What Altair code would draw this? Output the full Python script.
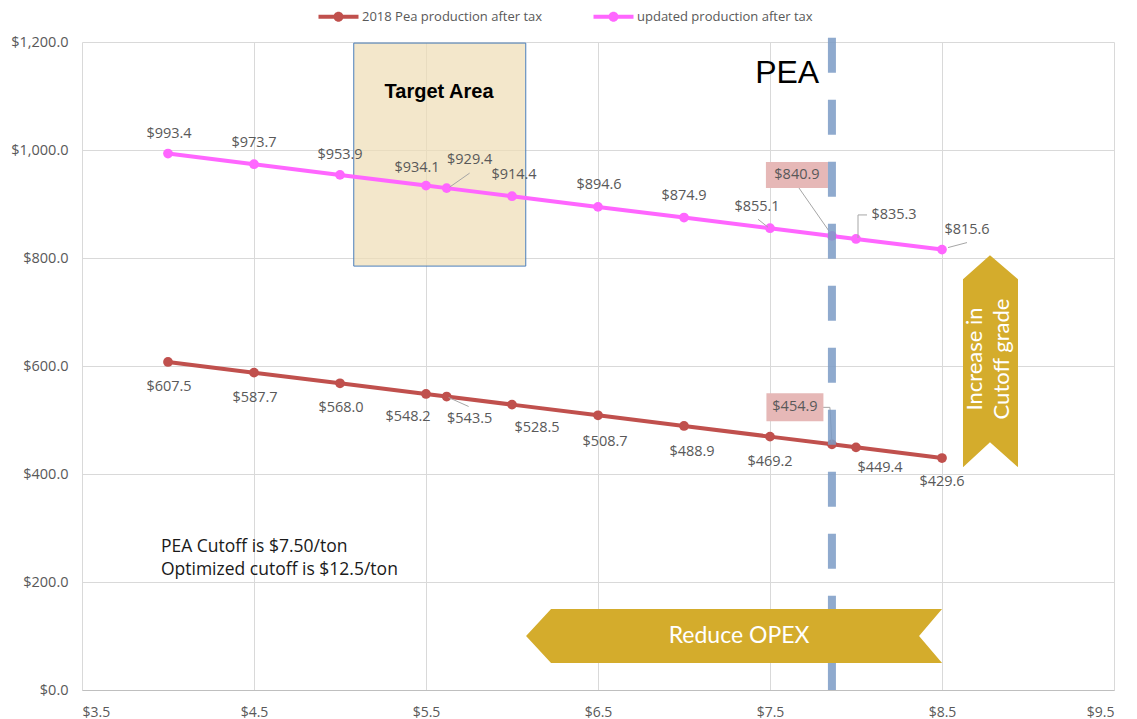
import altair as alt
import pandas as pd

# ---------------- data ----------------
x_vals = [4.0, 4.5, 5.0, 5.5, 5.62, 6.0, 6.5, 7.0, 7.5, 7.86, 8.0, 8.5]
updated = [993.4, 973.7, 953.9, 934.1, 929.4, 914.4, 894.6, 874.9, 855.1, 840.9, 835.3, 815.6]
pea2018 = [607.5, 587.7, 568.0, 548.2, 543.5, 528.5, 508.7, 488.9, 469.2, 454.9, 449.4, 429.6]
series_names = ["2018 Pea production after tax", "updated production after tax"]
series_colors = ["#C0504D", "#FF66FF"]
x_ticks = [3.5, 4.5, 5.5, 6.5, 7.5, 8.5, 9.5]
y_ticks = [0, 200, 400, 600, 800, 1000, 1200]
pea_index = 9  # PEA cutoff point

# label offsets in pixels (style only)
upd_dx = [1, 0, 0, -9, 23, 2, 1, 0, -13, -35, 38, 25]
upd_dy = [-20, -21, -20, -18, -28, -21, -22, -22, -21, -61, -24, -20]
red_dx = [1, 1, 1, -18, 23, 25, 7, 8, 0, -37, 24, 0]
red_dy = [25, 25, 25, 23, 22, 23, 27, 26, 25, -37, 21, 24]

# leader lines: (series, index, start dx, start dy, end dx, end dy) in pixels
leaders = [
    (1, 4, 3, -1, 23, -15),
    (0, 4, 2, 1, 22, 10),
    (1, 8, -12, -9, -2, -1),
    (1, 9, -33, -48, -3, -5),
    (1, 10, 2, -1, 2, -24),
    (1, 10, 2, -24, 11, -24),
    (1, 11, 6, -2, 25, -7),
    (0, 9, -9, -37, -2, -37),
    (0, 9, -2, -37, 0, -2),
]

W, H = 1032, 648
FONT = "Open Sans"
GRAY = "#595959"
GOLD = "#D4AC2C"

rows = []
for i, x in enumerate(x_vals):
    rows.append(dict(x=x, value=pea2018[i], series=series_names[0], dx=red_dx[i], dy=red_dy[i], idx=i))
    rows.append(dict(x=x, value=updated[i], series=series_names[1], dx=upd_dx[i], dy=upd_dy[i], idx=i))
df = pd.DataFrame(rows)

series_vals = [pea2018, updated]
ldf = pd.DataFrame([
    dict(x=x_vals[i], value=series_vals[s][i], sx=a, sy=b, ex=c, ey=d)
    for (s, i, a, b, c, d) in leaders
])

xs = alt.Scale(domain=[3.5, 9.5], nice=False, zero=False)
ys = alt.Scale(domain=[0, 1200], nice=False)
X = alt.X("x:Q", scale=xs, axis=alt.Axis(values=x_ticks, format="$.1f", title=None, grid=True,
                                        gridColor="#D9D9D9", ticks=False, domainColor="#BFBFBF",
                                        labelFont=FONT, labelFontSize=14, labelColor=GRAY,
                                        labelPadding=15))
Y = alt.Y("value:Q", scale=ys, axis=alt.Axis(values=y_ticks, format="$,.1f", title=None, grid=True,
                                             gridColor="#D9D9D9", ticks=False, domain=False,
                                             labelFont=FONT, labelFontSize=14.5, labelColor=GRAY,
                                             labelPadding=14))
color_scale = alt.Scale(domain=series_names, range=series_colors)

legend_path = ("M-4,-0.4L4,-0.4L4,0.4L-4,0.4Z"
               "M1,0A1,1,0,1,1,-1,0A1,1,0,1,1,1,0Z")

# target area box
target = alt.Chart(pd.DataFrame({"x": [5.08], "x2": [6.08], "value": [1198], "v2": [785]})).mark_rect(
    fill="#EEDDB5", fillOpacity=0.7, stroke="#4A7EBB", strokeWidth=1
).encode(x=alt.X("x:Q", scale=xs), x2="x2:Q", y=alt.Y("value:Q", scale=ys), y2="v2:Q")

target_txt = alt.Chart(pd.DataFrame({"x": [5.576], "value": [1107]})).mark_text(
    text="Target Area", font="Liberation Sans", fontWeight="bold", fontSize=20, color="#000000"
).encode(x=alt.X("x:Q", scale=xs), y=alt.Y("value:Q", scale=ys))

line_layers = [
    alt.Chart(df).transform_filter(alt.datum.series == name).mark_line(strokeWidth=4, color=col).encode(
        x=X, y=Y, order="x:Q"
    )
    for name, col in zip(series_names, series_colors)
]
points = alt.Chart(df).mark_circle(size=95, opacity=1).encode(
    x=X, y=Y,
    color=alt.Color("series:N", scale=color_scale,
                    legend=alt.Legend(title=None, orient="none", legendX=250, legendY=-32,
                                      direction="horizontal", symbolType=legend_path, symbolSize=100,
                                      symbolStrokeWidth=0, labelFont=FONT, labelFontSize=13,
                                      labelColor=GRAY, labelOffset=17, labelLimit=0,
                                      columnPadding=50, padding=0))
)

leader_rules = alt.Chart(ldf).mark_rule(
    color="#A6A6A6", strokeWidth=1,
    xOffset={"expr": "datum.sx"}, yOffset={"expr": "datum.sy"},
    x2Offset={"expr": "datum.ex"}, y2Offset={"expr": "datum.ey"},
).encode(x=alt.X("x:Q", scale=xs), y=alt.Y("value:Q", scale=ys), x2="x:Q", y2="value:Q")

# highlighted label boxes
hl_upd = alt.Chart(pd.DataFrame({"x": [x_vals[pea_index]], "value": [updated[pea_index]]})).mark_point(
    shape="M-31,-13L31,-13L31,13L-31,13Z", size=4, filled=True, color="#E6B8B7", opacity=1,
    strokeWidth=0, xOffset=upd_dx[pea_index], yOffset=upd_dy[pea_index]
).encode(x=alt.X("x:Q", scale=xs), y=alt.Y("value:Q", scale=ys))
hl_red = alt.Chart(pd.DataFrame({"x": [x_vals[pea_index]], "value": [pea2018[pea_index]]})).mark_point(
    shape="M-28.5,-14L28.5,-14L28.5,14L-28.5,14Z", size=4, filled=True, color="#E6B8B7", opacity=1,
    strokeWidth=0, xOffset=red_dx[pea_index], yOffset=red_dy[pea_index]
).encode(x=alt.X("x:Q", scale=xs), y=alt.Y("value:Q", scale=ys))

labels = alt.Chart(df).mark_text(
    font=FONT, fontSize=14.5, color=GRAY, baseline="middle",
    dx={"expr": "datum.dx"}, dy={"expr": "datum.dy"}
).encode(x=X, y=Y, text=alt.Text("value:Q", format="$,.1f"))

# PEA dashed line
pea_line = alt.Chart(pd.DataFrame({"x": [x_vals[pea_index]], "value": [1208], "v2": [0]})).mark_rule(
    color="#7B9BC5", opacity=0.85, strokeWidth=8, strokeDash=[35, 27]
).encode(x=alt.X("x:Q", scale=xs), y=alt.Y("value:Q", scale=ys), y2="v2:Q")

pea_txt = alt.Chart(pd.DataFrame({"x": [7.6], "value": [1142]})).mark_text(
    text="PEA", font="Liberation Sans", fontSize=32, color="#000000", baseline="middle"
).encode(x=alt.X("x:Q", scale=xs), y=alt.Y("value:Q", scale=ys))

cut_txt = alt.Chart(pd.DataFrame({"x": [3.959], "value": [264.8]})).mark_text(
    text=["PEA Cutoff is $7.50/ton", "Optimized cutoff is $12.5/ton"],
    font=FONT, fontSize=17.5, lineHeight=23, color="#1A1A1A", align="left", baseline="middle"
).encode(x=alt.X("x:Q", scale=xs), y=alt.Y("value:Q", scale=ys))

# banners
h_banner = alt.Chart(pd.DataFrame({"x": [7.291], "value": [100]})).mark_point(
    shape="M-208,0L-183,-27L208,-27L185,0L208,27L-183,27Z", size=4, filled=True,
    color=GOLD, opacity=1, strokeWidth=0
).encode(x=alt.X("x:Q", scale=xs), y=alt.Y("value:Q", scale=ys))
h_txt = alt.Chart(pd.DataFrame({"x": [7.32], "value": [100]})).mark_text(
    text="Reduce OPEX", font="Lato", fontSize=23, color="#FFFFFF", baseline="middle"
).encode(x=alt.X("x:Q", scale=xs), y=alt.Y("value:Q", scale=ys))

v_banner = alt.Chart(pd.DataFrame({"x": [8.779], "value": [609]})).mark_point(
    shape="M0,-106L28,-82L28,106L0,81L-27,106L-27,-82Z", size=4, filled=True,
    color=GOLD, opacity=1, strokeWidth=0
).encode(x=alt.X("x:Q", scale=xs), y=alt.Y("value:Q", scale=ys))
v_txt = alt.Chart(pd.DataFrame({"x": [8.692], "value": [613]})).mark_text(
    text=["Increase in", "Cutoff grade"], font="Lato", fontSize=22, lineHeight=27,
    color="#FFFFFF", angle=270, baseline="middle"
).encode(x=alt.X("x:Q", scale=xs), y=alt.Y("value:Q", scale=ys))

chart = alt.layer(
    target, target_txt, *line_layers, points, leader_rules, hl_upd, hl_red, labels,
    pea_line, pea_txt, cut_txt, h_banner, h_txt, v_banner, v_txt
).properties(
    width=W, height=H, padding={"left": 2, "top": 2, "right": 10, "bottom": 0}
).configure_view(stroke=None)

chart.save("out.html", embed_options={"renderer": "svg", "actions": False})
